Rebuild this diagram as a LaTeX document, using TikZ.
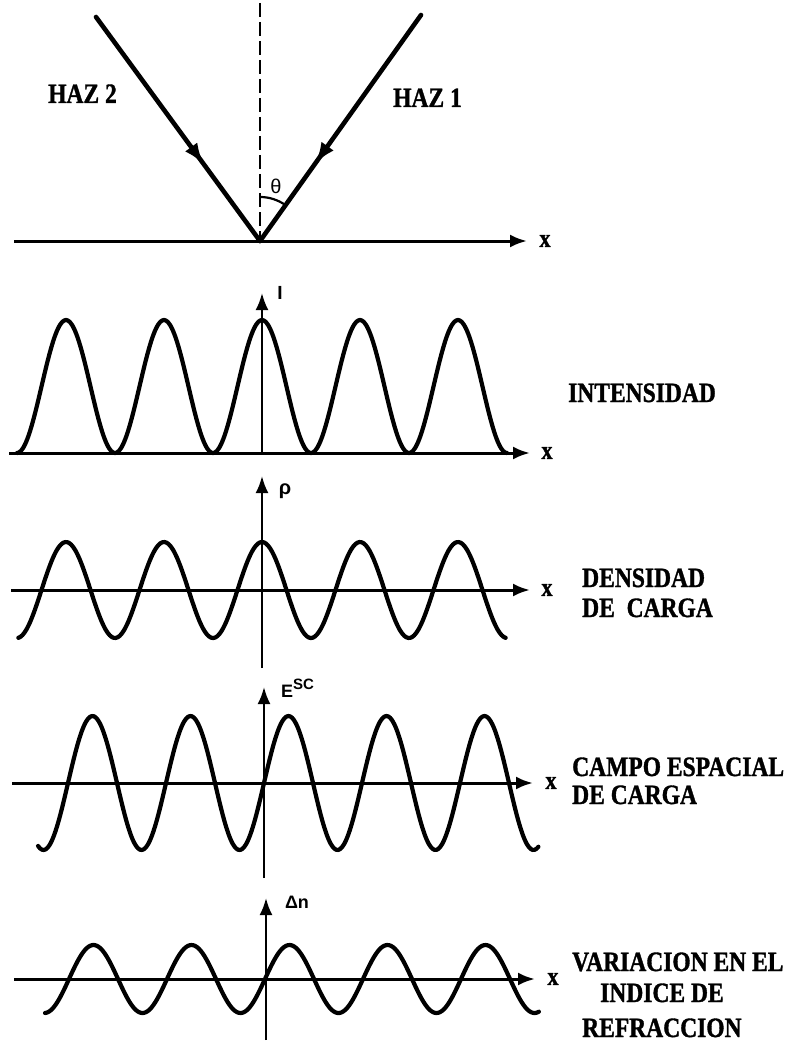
\documentclass[tikz,border=0pt]{standalone}
\usepackage{fontspec}
\setmainfont{Liberation Serif}
\setsansfont{Liberation Sans}
\newfontfamily\lblfont[FakeStretch=0.84, BoldFeatures={FakeBold=1.2}]{Liberation Serif}
\usetikzlibrary{arrows.meta,decorations.markings}
\begin{document}
\begin{tikzpicture}[x=1pt,y=-1pt]
\tikzset{
  axisline/.style={line width=3pt, -{Latex[length=17pt,width=13pt]}},
  vaxis/.style={line width=2.4pt, -{Latex[length=17pt,width=13pt]}},
  wave/.style={line width=4.2pt, line join=round, line cap=round},
  beam/.style={line width=4.6pt, line cap=round, postaction={decorate},
    decoration={markings, mark=at position 0.66 with {\arrow{Latex[length=22pt,width=15pt]}}}},
  dashline/.style={line width=2.6pt, dash pattern=on 14pt off 5pt},
  lbl/.style={font=\lblfont\bfseries\fontsize{28}{30}\selectfont, inner sep=0pt, anchor=base west},
  xlbl/.style={font=\lblfont\bfseries\fontsize{26}{28}\selectfont, inner sep=0pt},
  sym/.style={font=\sffamily\bfseries\fontsize{18}{18}\selectfont, inner sep=0pt},
}
\useasboundingbox (0,0) rectangle (802,1043);

% ---------- top: beams ----------
\coordinate (v) at (260,241);
\coordinate (h2s) at (96,17);
\coordinate (h1s) at (421,15);
\coordinate (dtop) at (260,3);
\coordinate (ta0) at (14,241);
\coordinate (ta1) at (527,241);
\draw[dashline] (dtop) -- (v);
\draw[beam] (h2s) -- (v);
\draw[beam] (h1s) -- (v);
\draw[axisline] (ta0) -- (ta1);
\node[xlbl] (tx) at (545,241) {x};
\draw[line width=2.2pt] (v) ++(0,-44) arc[start angle=90, end angle=54.5, radius=44pt];
\node[font=\sffamily\fontsize{20}{20}\selectfont, inner sep=0pt] (th) at (276,186) {θ};
\node[lbl] (haz2) at (48,103) {HAZ 2};
\node[lbl] (haz1) at (393,107) {HAZ 1};

% ---------- intensity ----------
\coordinate (ia0) at (9,453);
\coordinate (ia1) at (530,453);
\coordinate (iv0) at (262,453);
\coordinate (iv1) at (262,293);
\draw[wave] plot[domain=-900:900, samples=241, smooth, variable=\t]
  ({262+\t*0.27222}, {453-133*(1+cos(\t))/2});
\draw[axisline] (ia0) -- (ia1);
\draw[vaxis] (iv0) -- (iv1);
\node[xlbl] (ix) at (547,453) {x};
\node[sym, font=\sffamily\bfseries\fontsize{19}{19}\selectfont] (il) at (280,293) {I};
\node[lbl] (int) at (568,402) {INTENSIDAD};

% ---------- charge density ----------
\coordinate (ra0) at (11,590);
\coordinate (ra1) at (530,590);
\coordinate (rv0) at (262,668);
\coordinate (rv1) at (262,476);
\draw[wave] plot[domain=-895:895, samples=241, smooth, variable=\t]
  ({262+\t*0.27222}, {590-48*cos(\t)});
\draw[axisline] (ra0) -- (ra1);
\draw[vaxis] (rv0) -- (rv1);
\node[xlbl] (rx) at (547,590) {x};
\node[sym, font=\sffamily\bfseries\fontsize{20}{20}\selectfont] (rl) at (285,491) {ρ};
\node[lbl] (den1) at (582,587) {DENSIDAD};
\node[lbl] (den2) at (582,617) {DE\ \ CARGA};

% ---------- space-charge field ----------
\coordinate (ea0) at (12,783);
\coordinate (ea1) at (533,783);
\coordinate (ev0) at (264,878);
\coordinate (ev1) at (264,687);
\draw[wave] plot[domain=-830:1008, samples=261, smooth, variable=\t]
  ({264+\t*0.27222}, {783-67*sin(\t)});
\draw[axisline] (ea0) -- (ea1);
\draw[vaxis] (ev0) -- (ev1);
\node[xlbl] (ex) at (551,783) {x};
\node[sym, anchor=base west] (el) at (281,697) {E\raisebox{8pt}{\fontsize{15}{15}\selectfont SC}};
\node[lbl] (cam1) at (572,776) {CAMPO ESPACIAL};
\node[lbl] (cam2) at (572,804) {DE CARGA};

% ---------- refractive index change ----------
\coordinate (na0) at (14,979);
\coordinate (na1) at (535,979);
\coordinate (nv0) at (266,1040);
\coordinate (nv1) at (266,898);
\draw[wave] plot[domain=-808:1006, samples=261, smooth, variable=\t]
  ({265+\t*0.27222}, {979-34*sin(\t)});
\draw[axisline] (na0) -- (na1);
\draw[vaxis] (nv0) -- (nv1);
\node[xlbl] (nx) at (553,979) {x};
\node[sym] (nl) at (297,902) {Δn};
\node[lbl] (var1) at (572,971) {VARIACION EN EL};
\node[lbl] (var2) at (600,1002) {INDICE DE};
\node[lbl] (var3) at (582,1037) {REFRACCION};
\end{tikzpicture}
\end{document}
